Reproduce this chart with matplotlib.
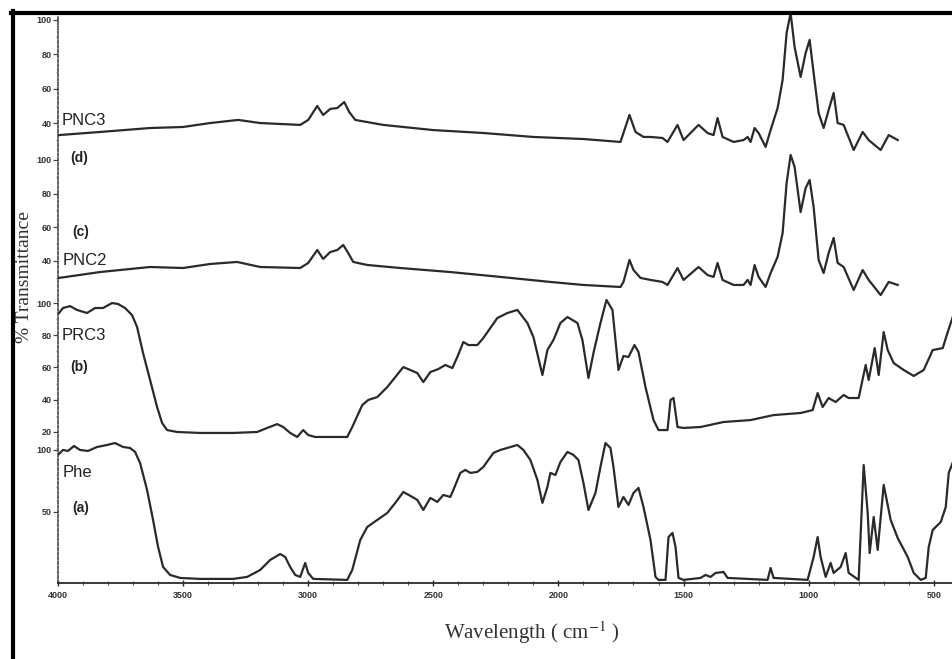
import matplotlib
matplotlib.use('Agg')
import matplotlib.pyplot as plt
from matplotlib.lines import Line2D
from matplotlib.ticker import MultipleLocator

plt.rcParams['font.family'] = ['Liberation Sans', 'DejaVu Sans']
plt.rcParams['mathtext.fontset'] = 'stix'

# (a) Phe
phe_wn = [3996, 3980, 3960, 3936, 3912, 3880, 3844, 3804, 3772, 3740, 3712, 3692, 3672, 3644,
          3620, 3600, 3580, 3552, 3512, 3432, 3300, 3244, 3192, 3152, 3112, 3092, 3072, 3052,
          3032, 3012, 3000, 2980, 2844, 2824, 2792, 2764, 2724, 2684, 2652, 2620, 2584, 2564,
          2540, 2512, 2484, 2460, 2432, 2420, 2392, 2372, 2352, 2324, 2300, 2260, 2232, 2192,
          2164, 2140, 2112, 2084, 2064, 2044, 2032, 2012, 1992, 1964, 1940, 1920, 1900, 1880,
          1852, 1832, 1812, 1792, 1780, 1760, 1740, 1720, 1700, 1680, 1660, 1632, 1612, 1600,
          1572, 1560, 1544, 1532, 1520, 1500, 1432, 1412, 1392, 1372, 1340, 1324, 1164, 1152,
          1140, 1004, 980, 964, 952, 932, 912, 900, 872, 852, 840, 800, 780, 764, 756, 740,
          724, 700, 672, 644, 604, 580, 552, 532, 520, 504, 472, 452, 440, 420]
phe_t = [96.8, 100.0, 99.2, 103.2, 100.0, 99.2, 102.4, 104.0, 105.6, 102.4, 101.6, 98.4, 89.5, 67.7,
         43.5, 21.8, 5.6, -0.8, -3.2, -4.0, -4.0, -2.4, 3.2, 11.3, 16.1, 13.7, 5.6, -0.8,
         -2.4, 8.9, 0.8, -4.0, -4.8, 3.2, 27.4, 37.9, 43.5, 49.2, 57.3, 66.1, 62.1, 59.7,
         51.6, 61.3, 58.1, 63.7, 62.1, 67.7, 81.5, 83.9, 81.5, 82.3, 86.3, 97.6, 100.0, 102.4,
         104.0, 100.0, 91.9, 75.8, 57.3, 70.2, 81.5, 79.8, 90.3, 98.4, 96.0, 91.9, 73.4, 51.6,
         65.3, 86.3, 105.6, 101.6, 86.3, 54.0, 62.1, 55.6, 65.3, 69.4, 54.0, 27.4, -2.4, -4.8,
         -4.8, 29.8, 33.1, 21.8, -3.2, -4.8, -3.2, -0.8, -2.4, 0.8, 1.6, -3.2, -4.8, 4.8,
         -3.2, -4.8, 13.7, 29.8, 13.7, -2.4, 8.9, 0.8, 5.6, 16.9, 0.8, -4.8, 87.9, 49.2, 16.9, 46.0,
         19.4, 71.8, 43.5, 29.0, 13.7, 0.8, -4.8, -3.2, 21.8, 35.5, 41.9, 53.9, 81.5, 91.9]

# (b) PRC3
prc3_wn = [3996, 3980, 3952, 3924, 3884, 3852, 3820, 3784, 3760, 3732, 3704, 3684, 3660, 3632,
           3604, 3584, 3564, 3524, 3432, 3300, 3204, 3164, 3124, 3100, 3072, 3044, 3020, 3000,
           2972, 2844, 2824, 2784, 2760, 2724, 2684, 2652, 2620, 2592, 2564, 2540, 2512, 2480,
           2452, 2424, 2404, 2380, 2360, 2324, 2300, 2244, 2204, 2164, 2124, 2100, 2064, 2044,
           2020, 1992, 1964, 1924, 1904, 1880, 1860, 1832, 1808, 1784, 1772, 1760, 1740, 1720,
           1696, 1680, 1652, 1620, 1600, 1564, 1552, 1540, 1524, 1500, 1432, 1340, 1232, 1140,
           1032, 984, 964, 944, 920, 892, 860, 840, 800, 772, 760, 736, 720, 700, 684, 660, 620,
           580, 540, 504, 464, 444, 420]
prc3_t = [93.8, 96.9, 98.1, 95.7, 93.8, 96.9, 96.9, 100.0, 99.4, 96.9, 92.5, 85.1, 68.9, 52.2,
          35.4, 25.5, 21.1, 19.9, 19.3, 19.3, 19.9, 22.4, 24.8, 23.0, 19.3, 16.8, 21.1, 18.0,
          16.8, 16.8, 23.0, 36.6, 39.8, 41.6, 47.8, 54.0, 60.2, 58.4, 56.5, 50.9, 57.1, 59.0,
          61.5, 59.6, 66.5, 75.8, 73.9, 73.9, 78.3, 90.7, 93.8, 95.7, 87.6, 78.9, 55.3, 70.8,
          77.0, 87.6, 91.3, 87.6, 77.0, 53.4, 68.9, 87.6, 101.9, 95.7, 77.0, 58.4, 67.1, 66.5,
          73.9, 69.6, 47.8, 27.3, 21.1, 21.1, 39.8, 41.0, 23.0, 22.4, 23.0, 26.1, 27.3, 30.4,
          31.7, 33.5, 44.1, 35.4, 41.0, 38.5, 42.9, 41.0, 41.0, 61.5, 52.2, 72.0, 55.3, 82.0, 70.8, 62.7, 58.4,
          54.7, 58.4, 70.8, 72.0, 82.0, 93.2]

# (c) PNC2
pnc2_wn = [3996, 3832, 3632, 3500, 3392, 3284, 3192, 3032, 3000, 2964, 2940, 2912, 2884, 2860,
           2840, 2820, 2764, 2632, 2432, 2232, 2032, 1900, 1752, 1740, 1716, 1700, 1672, 1632,
           1584, 1564, 1524, 1500, 1440, 1404, 1380, 1364, 1344, 1300, 1260, 1244, 1232, 1216,
           1200, 1172, 1152, 1124, 1104, 1088, 1072, 1056, 1032, 1012, 996, 980, 960, 940, 920,
           900, 884, 860, 820, 784, 760, 712, 680, 644]
pnc2_t = [29.8, 33.3, 36.3, 35.7, 38.1, 39.3, 36.3, 35.7, 38.7, 46.4, 41.1, 45.2, 46.4, 49.4,
          44.6, 39.3, 37.5, 35.7, 33.3, 30.4, 27.4, 25.6, 24.4, 27.4, 40.5, 34.5, 29.8, 28.6,
          27.4, 25.6, 35.7, 28.6, 36.3, 31.5, 30.4, 38.7, 28.6, 25.6, 25.6, 28.6, 25.6, 37.5,
          30.4, 24.4, 32.7, 42.3, 56.5, 86.3, 103.0, 95.8, 69.0, 83.3, 88.1, 72.0, 40.5, 32.7, 44.6,
          53.6, 38.7, 36.3, 22.6, 34.5, 28.6, 19.6, 27.4, 25.6]

# (d) PNC3
pnc3_wn = [3996, 3832, 3632, 3500, 3392, 3280, 3192, 3032, 3000, 2964, 2940, 2912, 2884, 2856,
           2836, 2812, 2700, 2500, 2300, 2100, 1900, 1752, 1716, 1692, 1660, 1632, 1584, 1564,
           1524, 1500, 1440, 1404, 1380, 1364, 1344, 1300, 1260, 1244, 1232, 1216, 1200, 1172,
           1152, 1124, 1104, 1088, 1072, 1056, 1032, 1012, 996, 980, 960, 940, 920, 900, 884,
           860, 820, 784, 760, 712, 680, 644]
pnc3_t = [33.1, 34.9, 37.2, 37.8, 40.1, 41.9, 40.1, 39.0, 41.9, 50.0, 44.8, 48.3, 48.8, 52.3,
          46.5, 41.9, 39.0, 36.0, 34.3, 32.0, 30.8, 29.1, 44.8, 34.9, 32.0, 32.0, 31.4, 29.1,
          39.0, 30.2, 39.0, 34.3, 33.1, 43.0, 32.0, 29.1, 30.2, 32.0, 29.1, 37.2, 34.3, 26.2,
          36.0, 48.8, 65.1, 92.4, 104.1, 84.3, 66.9, 80.8, 88.4, 69.2, 45.9, 37.2, 47.7, 57.6, 40.1,
          39.0, 24.4, 34.9, 30.2, 24.4, 33.1, 30.2]

x_ticks = [4000, 3500, 3000, 2500, 2000, 1500, 1000, 500]

fig = plt.figure(figsize=(9.53, 6.59), dpi=100)
rect = [58 / 953, 76 / 659, 895 / 953, 568 / 659]
xlim = (4000, 423)
ink = '#2a2a2a'

ax = fig.add_axes(rect)
ax.set_xlim(*xlim)
ax.set_ylim(0, 1)
ax.set_yticks([])
ax.spines['top'].set_visible(False)
ax.spines['right'].set_visible(False)
ax.spines['left'].set_linestyle((0, (1.4, 1.2)))
ax.spines['left'].set_color('#555555')
ax.spines['left'].set_linewidth(1.3)
ax.spines['bottom'].set_color(ink)
ax.spines['bottom'].set_linewidth(1.3)
ax.set_xticks(x_ticks)
ax.set_xticklabels([str(v) for v in x_ticks])
ax.xaxis.set_minor_locator(MultipleLocator(100))
ax.tick_params(axis='x', which='major', direction='inout', length=5, width=1, pad=3,
               labelsize=6.5, labelcolor='#333333', color=ink)
ax.tick_params(axis='x', which='minor', direction='inout', length=2.5, width=0.8, color='#555555')
for lab in ax.get_xticklabels():
    lab.set_fontweight('bold')

# each trace sits on its own transparent axes with its own y scale
panels = [
    (phe_wn, phe_t, (-7.3, 450.8), [50, 100], 10),
    (prc3_wn, prc3_t, (-73.9, 278.9), [20, 40, 60, 80, 100], 10),
    (pnc2_wn, pnc2_t, (-151.8, 186.3), [40, 60, 80, 100], 10),
    (pnc3_wn, pnc3_t, (-227.3, 102.9), [40, 60, 80, 100], 10),
]
paxes = []
for wn, t, ylim, ticks, minor in panels:
    pax = fig.add_axes(rect)
    pax.patch.set_visible(False)
    pax.plot(wn, t, color=ink, lw=1.6, solid_joinstyle='round')
    pax.set_xlim(*xlim)
    pax.set_ylim(*ylim)
    pax.set_yticks(ticks)
    pax.set_yticks(range(ticks[0] - minor, 101, minor), minor=True)
    for s in pax.spines.values():
        s.set_visible(False)
    pax.tick_params(axis='x', which='both', bottom=False, labelbottom=False)
    pax.tick_params(axis='y', which='major', length=3.5, width=0.9, pad=1,
                    labelsize=6.5, labelcolor='#333333', color='#444444')
    pax.tick_params(axis='y', which='minor', length=1.5, width=0.7, color='#777777')
    for lab in pax.get_yticklabels():
        lab.set_fontweight('bold')
    paxes.append(pax)

ax_a, ax_b, ax_c, ax_d = paxes
name_kw = dict(fontsize=12, color='#222222', va='center', ha='left')
tag_kw = dict(fontsize=10, color='#222222', va='center', ha='left', fontweight='bold')
ax_d.text(3984, 41.3, 'PNC3', **name_kw)
ax_d.text(3952, 19.8, '(d)', **tag_kw)
ax_c.text(3944, 57.1, '(c)', **tag_kw)
ax_c.text(3980, 39.9, 'PNC2', **name_kw)
ax_b.text(3984, 80.1, 'PRC3', **name_kw)
ax_b.text(3952, 60.2, '(b)', **tag_kw)
ax_a.text(3980, 81.5, 'Phe', **name_kw)
ax_a.text(3944, 53.2, '(a)', **tag_kw)

fig.text(25 / 953, 1 - 277 / 659, '% Transmittance', rotation=90, ha='center', va='center',
         family='Liberation Serif', fontsize=14, color='#333333')
fig.text(532 / 953, 1 - 633 / 659, r'Wavelength ( cm$^{-1}$ )', ha='center', va='center',
         family='Liberation Serif', fontsize=15, color='#333333')

# thick frame on the left and top
fig.add_artist(Line2D([13 / 953, 13 / 953], [0, 1 - 11 / 659], color='black', lw=3))
fig.add_artist(Line2D([11 / 953, 1], [1 - 13 / 659, 1 - 13 / 659], color='black', lw=3))

fig.savefig('out.png', dpi=100)
